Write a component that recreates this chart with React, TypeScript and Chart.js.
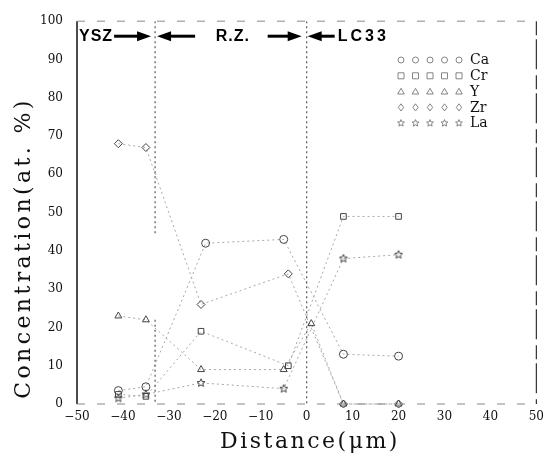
import React, { useEffect, useRef } from "react";
import { Chart, registerables } from "chart.js";

Chart.register(...registerables);

// ---- data ----
const elements = ["Ca", "Cr", "Y", "Zr", "La"];
const caX = [-41, -35, -22, -5, 8, 20];
const caY = [3.5, 4.5, 42, 43, 13, 12.5];
const crX = [-41, -35, -23, -4, 8, 20];
const crY = [2.5, 2, 19, 10, 49, 49];
const yX = [-41, -35, -23, -5, 1, 8, 20];
const yY = [23, 22, 9, 9, 21, 0, 0];
const zrX = [-41, -35, -23, -4, 8, 20];
const zrY = [68, 67, 26, 34, 0, 0];
const laX = [-41, -35, -23, -5, 8, 20];
const laY = [1.5, 2.5, 5.5, 4, 38, 39];

const boundaries = [-33, 0];
const zoneLabels = ["YSZ", "R.Z.", "LC33"];
const xTicks = [-50, -40, -30, -20, -10, 0, 10, 20, 30, 40, 50];
const xTickLabels = ["\u221250", "\u221240", "\u221230", "\u221220", "\u221210", "0", "10", "20", "30", "40", "50"];
const yTickLabels = ["0", "10", "20", "30", "40", "50", "60", "70", "80", "90", "100"];
const xTitle = "Distance(\u03bcm)";
const yTitle = "Concentration(at. %)";

const pts = (xs: number[], ys: number[]) => xs.map((x, i) => ({ x, y: ys[i] }));

const MARK = "#444";
const LINE = "#a8a8a8";

function makeStar(size: number, color: string) {
  const c = document.createElement("canvas");
  c.width = size;
  c.height = size;
  const g = c.getContext("2d")!;
  g.strokeStyle = color;
  g.lineWidth = 1;
  const cx = size / 2, cy = size / 2, ro = size / 2 - 0.8, ri = ro * 0.45;
  g.beginPath();
  for (let i = 0; i < 10; i++) {
    const r = i % 2 === 0 ? ro : ri;
    const a = -Math.PI / 2 + (i * Math.PI) / 5;
    const px = cx + r * Math.cos(a), py = cy + r * Math.sin(a);
    if (i === 0) g.moveTo(px, py); else g.lineTo(px, py);
  }
  g.closePath();
  g.stroke();
  return c;
}

function drawSym(ctx: CanvasRenderingContext2D, style: string, x: number, y: number, r: number) {
  ctx.beginPath();
  if (style === "circle") {
    ctx.arc(x, y, r, 0, Math.PI * 2);
  } else if (style === "rect") {
    ctx.rect(x - r, y - r, 2 * r, 2 * r);
  } else if (style === "triangle") {
    ctx.moveTo(x, y - r * 1.1);
    ctx.lineTo(x + r * 1.1, y + r * 0.8);
    ctx.lineTo(x - r * 1.1, y + r * 0.8);
    ctx.closePath();
  } else if (style === "rectRot") {
    ctx.moveTo(x, y - r * 1.2);
    ctx.lineTo(x + r * 0.9, y);
    ctx.lineTo(x, y + r * 1.2);
    ctx.lineTo(x - r * 0.9, y);
    ctx.closePath();
  } else {
    const ro = r * 1.2, ri = ro * 0.45;
    for (let i = 0; i < 10; i++) {
      const rr = i % 2 === 0 ? ro : ri;
      const a = -Math.PI / 2 + (i * Math.PI) / 5;
      const px = x + rr * Math.cos(a), py = y + rr * Math.sin(a);
      if (i === 0) ctx.moveTo(px, py); else ctx.lineTo(px, py);
    }
    ctx.closePath();
  }
  ctx.stroke();
}

function arrow(ctx: CanvasRenderingContext2D, from: number, to: number, y: number) {
  const dir = Math.sign(to - from);
  const headLen = 14;
  ctx.beginPath();
  ctx.lineWidth = 3;
  ctx.moveTo(from, y);
  ctx.lineTo(to - dir * headLen + dir, y);
  ctx.stroke();
  ctx.beginPath();
  ctx.moveTo(to, y);
  ctx.lineTo(to - dir * headLen, y - 5);
  ctx.lineTo(to - dir * headLen, y + 5);
  ctx.closePath();
  ctx.fill();
}

const styles = ["circle", "rect", "triangle", "rectRot", "star"];

const decorPlugin = {
  id: "decor",
  afterDraw(chart: any) {
    const { ctx, chartArea: a, scales } = chart;
    const xs = scales.x;
    ctx.save();
    // frame
    ctx.strokeStyle = "#111";
    ctx.lineWidth = 1.5;
    ctx.beginPath();
    ctx.moveTo(a.left, a.top);
    ctx.lineTo(a.left, a.bottom);
    ctx.stroke();
    ctx.strokeStyle = "#333";
    ctx.lineWidth = 1.2;
    ctx.setLineDash([14, 4, 30, 6]);
    ctx.beginPath();
    ctx.moveTo(a.right, a.top);
    ctx.lineTo(a.right, a.bottom);
    ctx.stroke();
    ctx.strokeStyle = "#888";
    ctx.lineWidth = 1;
    ctx.setLineDash([8, 12]);
    ctx.beginPath();
    ctx.moveTo(a.left, a.top);
    ctx.lineTo(a.right, a.top);
    ctx.moveTo(a.left, a.bottom);
    ctx.lineTo(a.right, a.bottom);
    ctx.stroke();
    ctx.setLineDash([]);

    // zone labels and arrows
    const b1 = xs.getPixelForValue(boundaries[0]);
    const b2 = xs.getPixelForValue(boundaries[1]);
    const ty = a.top + 15;
    ctx.fillStyle = "#000";
    ctx.strokeStyle = "#000";
    ctx.font = "bold 16px 'Liberation Sans', Arial, sans-serif";
    ctx.textBaseline = "middle";
    ctx.textAlign = "left";
    (ctx as any).letterSpacing = "1px";
    ctx.fillText(zoneLabels[0], a.left + 2, ty);
    ctx.textAlign = "center";
    ctx.fillText(zoneLabels[1], (b1 + b2) / 2 + 2, ty);
    ctx.textAlign = "left";
    (ctx as any).letterSpacing = "3px";
    ctx.fillText(zoneLabels[2], b2 + 31, ty);
    (ctx as any).letterSpacing = "0px";
    arrow(ctx, b1 - 41, b1 - 4, ty);
    arrow(ctx, b1 + 40, b1 + 2, ty);
    arrow(ctx, b2 - 39, b2 - 5, ty);
    arrow(ctx, b2 + 28, b2 + 1, ty);

    // legend
    const lx = 398, ly0 = 60, dy = 15.8;
    elements.forEach((name, i) => {
      const y = ly0 + i * dy;
      ctx.strokeStyle = "#777";
      ctx.lineWidth = 0.9;
      for (let k = 0; k < 5; k++) drawSym(ctx, styles[i], lx + 3 + k * 14.5, y, 3);
      ctx.fillStyle = "#111";
      ctx.font = "14px 'DejaVu Serif', serif";
      ctx.textAlign = "left";
      ctx.textBaseline = "middle";
      ctx.fillText(name, 470, y + 0.5);
    });

    // axis titles
    ctx.fillStyle = "#111";
    ctx.font = "22px 'DejaVu Serif', serif";
    ctx.textAlign = "center";
    ctx.textBaseline = "alphabetic";
    (ctx as any).letterSpacing = "2.5px";
    ctx.fillText(xTitle, 310, 448);
    ctx.translate(30, 248);
    ctx.rotate(-Math.PI / 2);
    (ctx as any).letterSpacing = "3.4px";
    ctx.fillText(yTitle, 0, 0);
    ctx.restore();
  },
};

export default function App() {
  const ref = useRef<HTMLCanvasElement>(null);
  useEffect(() => {
    if (!ref.current) return;
    const star = makeStar(10, MARK);
    const series = [
      { label: "Ca", data: pts(caX, caY), pointStyle: "circle" as any },
      { label: "Cr", data: pts(crX, crY), pointStyle: "rect" as any },
      { label: "Y", data: pts(yX, yY), pointStyle: "triangle" as any },
      { label: "Zr", data: pts(zrX, zrY), pointStyle: "rectRot" as any },
      { label: "La", data: pts(laX, laY), pointStyle: star as any },
    ].map((s) => ({
      ...s,
      showLine: true,
      borderColor: LINE,
      borderWidth: 1,
      borderDash: [2, 3],
      pointBorderColor: MARK,
      pointBackgroundColor: "rgba(0,0,0,0)",
      pointBorderWidth: 1,
      pointRadius: 4,
      clip: false as any,
    }));
    const bLines = [
      [boundaries[0], 100, boundaries[0], 44],
      [boundaries[0], 22, boundaries[0], 0],
      [boundaries[1], 100, boundaries[1], 0],
    ].map((b) => ({
      label: "boundary",
      data: [{ x: b[0], y: b[1] }, { x: b[2], y: b[3] }],
      showLine: true,
      borderColor: "#555",
      borderWidth: 1.2,
      borderDash: [2, 3],
      pointRadius: 0,
    }));
    const chart = new Chart(ref.current, {
      type: "scatter",
      data: { datasets: [...bLines, ...series] as any },
      options: {
        animation: false,
        responsive: false,
        devicePixelRatio: 1,
        layout: { padding: { top: 12, right: 13, left: 0, bottom: 0 } },
        plugins: { legend: { display: false }, tooltip: { enabled: false } },
        scales: {
          x: {
            type: "linear",
            min: -50,
            max: 50,
            afterFit: (s: any) => { s.height = 58; },
            afterBuildTicks: (s: any) => { s.ticks = xTicks.map((v) => ({ value: v })); },
            grid: { display: false, drawTicks: false },
            border: { display: false },
            ticks: {
              padding: 6,
              color: "#111",
              font: { family: "'DejaVu Serif', serif", size: 12 },
              callback: (v: any) => xTickLabels[xTicks.indexOf(Number(v))] ?? "",
            },
          },
          y: {
            type: "linear",
            min: 0,
            max: 100,
            afterFit: (s: any) => { s.width = 77; },
            grid: { display: false, drawTicks: false },
            border: { display: false },
            ticks: {
              stepSize: 10,
              padding: 14,
              color: "#111",
              font: { family: "'DejaVu Serif', serif", size: 12 },
              callback: (v: any) => yTickLabels[Math.round(Number(v) / 10)] ?? "",
            },
          },
        },
      },
      plugins: [decorPlugin],
    });
    return () => chart.destroy();
  }, []);
  return (
    <div style={{ position: "absolute", left: 0, top: 0, width: 550, height: 462, background: "#fff" }}>
      <canvas ref={ref} width={550} height={462} />
    </div>
  );
}
